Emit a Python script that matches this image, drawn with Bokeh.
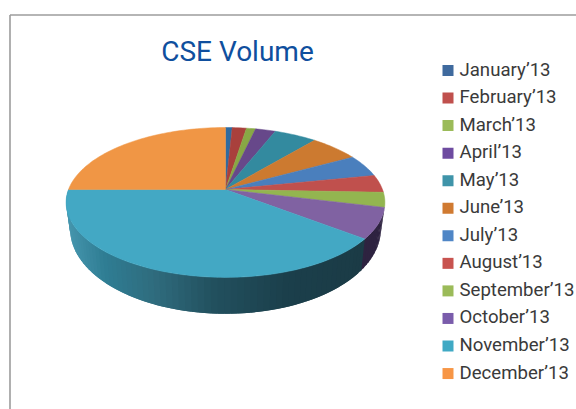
import math
from bokeh.plotting import figure
from bokeh.models import Range1d
from bokeh.core.properties import value
from bokeh.embed import file_html
from bokeh.resources import INLINE

months = ["January’13", "February’13", "March’13", "April’13", "May’13", "June’13",
          "July’13", "August’13", "September’13", "October’13", "November’13", "December’13"]
volume_pct = [0.8, 1.7, 1.1, 2.4, 5.1, 5.9, 4.8, 3.8, 3.2, 6.6, 39.6, 25.0]
slice_colors = ["#2f6ba0", "#a9403c", "#88a845", "#67488a", "#338a9f", "#cc7a30",
                "#4a7fbd", "#c0504d", "#93b550", "#8062a2", "#43a8c4", "#f09645"]
legend_colors = ["#3f6a9e", "#c0504d", "#9bbb59", "#6e4ba0", "#3f94a9", "#d07a31",
                 "#4f86c6", "#c8534f", "#9bbb59", "#7a5cab", "#3fa9c4", "#f79646"]
title = "CSE Volume"

FONT = "Roboto"
APEX_X, APEX_Y = 225.0, 189.0
R, S, K = 157.0, 72.7, 0.173
WALL_XS, WALL_YS, WALL_DY = 0.975, 1.13, 25.0


def rim(angle_deg):
    a = math.radians(angle_deg)
    u, v = math.sin(a), -math.cos(a)
    w = 1 - K * v
    return R * u / w, S * v / w


def top(angle_deg):
    x, y = rim(angle_deg)
    return APEX_X + x, APEX_Y + y


def bottom(angle_deg):
    x, y = rim(angle_deg)
    return APEX_X + WALL_XS * x, APEX_Y + WALL_YS * y + WALL_DY


def mix(stops, t):
    for (t0, c0), (t1, c1) in zip(stops, stops[1:]):
        if t <= t1:
            f = (t - t0) / (t1 - t0)
            return tuple(round(a + (b - a) * f) for a, b in zip(c0, c1))
    return stops[-1][1]


p = figure(width=576, height=409, output_backend="svg", toolbar_location=None,
           x_range=Range1d(0, 576), y_range=Range1d(409, 0),
           min_border=0, outline_line_color=None, background_fill_color="white",
           border_fill_color="white")
p.axis.visible = False
p.grid.visible = False

p.line([9.5, 576], [14.5, 14.5], line_color="#9c9c9c", line_width=1.6)
p.line([9.5, 9.5], [14.5, 409], line_color="#9c9c9c", line_width=1.6)

edges = [0.0]
for val in volume_pct:
    edges.append(edges[-1] + val / sum(volume_pct) * 360)

WALL_STOPS = [(0.0, (27, 59, 70)), (0.25, (27, 63, 75)), (0.5, (34, 80, 94)),
              (0.7, (47, 107, 125)), (0.87, (47, 125, 147)), (1.0, (70, 150, 174))]


def wall(a0, a1, color):
    t0, t1 = top(a0), top(a1)
    b0, b1 = bottom(a0), bottom(a1)
    p.patch([t0[0], t1[0], b1[0], b0[0]], [t0[1], t1[1], b1[1], b0[1]],
            fill_color=color, line_color=None)


oct_start, oct_end, nov_end = edges[9], edges[10], edges[11]
wall_oct = 12
for i in range(wall_oct):
    wall(oct_start + (oct_end - oct_start) * i / wall_oct,
         oct_start + (oct_end - oct_start) * (i + 1) / wall_oct + 1.0, "#2e2340")
wall_nov = 70
for i in range(wall_nov):
    a0 = oct_end + (nov_end - oct_end) * i / wall_nov
    a1 = oct_end + (nov_end - oct_end) * (i + 1) / wall_nov
    x = top((a0 + a1) / 2)[0]
    t = 1 - (x - 65) / 297
    r, g, b = mix(WALL_STOPS, max(0.0, min(1.0, t)))
    wall(a0, min(a1 + 2.0, nov_end), f"#{r:02x}{g:02x}{b:02x}")

for i, color in enumerate(slice_colors):
    n = max(3, int((edges[i + 1] - edges[i]) / 1.5))
    pts = [top(edges[i] + (edges[i + 1] - edges[i]) * j / n) for j in range(n + 1)]
    xs = [APEX_X] + [q[0] for q in pts]
    ys = [APEX_Y] + [q[1] for q in pts]
    p.patch(xs, ys, fill_color=color, line_color=color, line_width=0.5)

p.text([237], [51], text=[title], text_font=value(FONT), text_font_size="28px",
       text_color="#0f4f9e", text_align="center", text_baseline="middle")

ROW0, ROW_STEP = 70.0, 27.55
rows = [ROW0 + ROW_STEP * i for i in range(len(months))]
p.rect([447.5] * len(months), rows, width=11, height=11, width_units="screen",
       height_units="screen", fill_color=legend_colors, line_color=None)
p.text([459] * len(months), [r - 1 for r in rows], text=months, text_font=value(FONT),
       text_font_size="18.6px", text_color="#3a3a3a", text_align="left", text_baseline="middle")

open("out.html", "w").write(file_html(p, INLINE))
